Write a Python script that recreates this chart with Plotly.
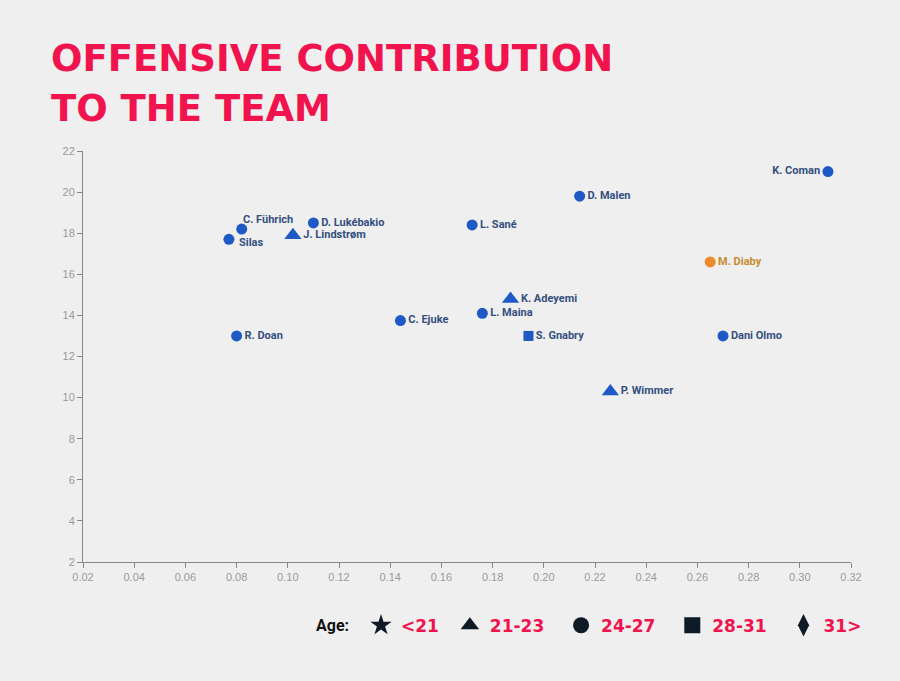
import plotly.graph_objects as go

players = ["K. Coman", "D. Malen", "L. Sané", "M. Diaby", "K. Adeyemi", "L. Maina",
           "S. Gnabry", "Dani Olmo", "P. Wimmer", "C. Führich", "Silas", "D. Lukébakio",
           "J. Lindstrøm", "R. Doan", "C. Ejuke"]
x_vals = [0.311, 0.214, 0.172, 0.265, 0.187, 0.176, 0.194, 0.270, 0.226, 0.082, 0.077,
          0.110, 0.102, 0.080, 0.144]
y_vals = [21.0, 19.8, 18.4, 16.6, 14.8, 14.1, 13.0, 13.0, 10.3, 18.2, 17.7, 18.5, 17.9,
          13.0, 13.75]
age_groups = ["24-27", "24-27", "24-27", "24-27", "21-23", "24-27", "28-31", "24-27",
              "21-23", "24-27", "24-27", "24-27", "21-23", "24-27", "24-27"]
highlight = ["M. Diaby"]

legend_title = "Age:"
legend_labels = ["<21", "21-23", "24-27", "28-31", "31>"]
legend_symbols = ["star", "triangle-up", "circle", "square", "diamond-tall"]

x_ticks = [round(0.02 + 0.02 * i, 2) for i in range(16)]
y_ticks = list(range(2, 23, 2))

sym_map = dict(zip(legend_labels, legend_symbols))
BLUE = "#1f59c6"
ORANGE = "#ec8a2c"
LABEL = "#34507f"
LABEL_OR = "#c98b2e"
RED = "#f0134d"
BG = "#efefef"

pos_map = {"K. Coman": "middle left"}
# labels placed as annotations: (xanchor, yanchor, xshift, yshift)
special = {"C. Führich": ("left", "bottom", -1, 1), "Silas": ("left", "middle", 8, -3)}

fig = go.Figure()
for name, x, y, ag in zip(players, x_vals, y_vals, age_groups):
    sym = sym_map[ag]
    size = 11 if sym == "circle" else (15 if sym == "triangle-up" else 10)
    col = ORANGE if name in highlight else BLUE
    lab_font = dict(family="Roboto", size=11, weight="bold",
                    color=LABEL_OR if name in highlight else LABEL)
    in_trace = name not in special
    fig.add_trace(go.Scatter(
        x=[x], y=[y], mode="markers+text" if in_trace else "markers",
        text=[name] if in_trace else None,
        textposition=pos_map.get(name, "middle right"),
        textfont=lab_font,
        marker=dict(symbol=sym, size=size, color=col, line=dict(width=0)),
        showlegend=False, hoverinfo="skip", cliponaxis=False))
    if not in_trace:
        xa, ya, xs, ys = special[name]
        fig.add_annotation(x=x, y=y, text=name, showarrow=False, xanchor=xa,
                           yanchor=ya, xshift=xs, yshift=ys, font=lab_font)

for lab, sym in zip(legend_labels, legend_symbols):
    pad = "\u00a0" if len(lab) <= 3 else "\u00a0\u00a0"
    fig.add_trace(go.Scatter(
        x=[None], y=[None], mode="markers", name=lab + pad,
        marker=dict(symbol=sym, size=18, color="#0e1b26"), showlegend=True))

fig.add_annotation(text=legend_title, xref="paper", yref="paper",
                   x=0.301, y=-0.1557, xanchor="left", yanchor="middle", showarrow=False,
                   font=dict(family="Roboto", size=16, color="#111111", weight="bold"))

fig.add_annotation(text="OFFENSIVE CONTRIBUTION", xref="paper", yref="paper",
                   x=-0.044, y=0.168 + 1, xanchor="left", yanchor="bottom",
                   showarrow=False, font=dict(family="DejaVu Sans", size=37, color=RED, weight="bold"))
fig.add_annotation(text="TO THE TEAM", xref="paper", yref="paper",
                   x=-0.044, y=0.046 + 1, xanchor="left", yanchor="bottom",
                   showarrow=False, font=dict(family="DejaVu Sans", size=37, color=RED, weight="bold"))

axis_common = dict(showgrid=False, zeroline=False, showline=True, linecolor="#888888",
                   linewidth=1, ticks="outside", ticklen=5, tickcolor="#888888",
                   tickfont=dict(family="Liberation Sans", size=11, color="#9a9a9a"))
fig.update_xaxes(range=[0.02, 0.32], tickvals=x_ticks, ticktext=[f"{t:.2f}" for t in x_ticks],
                 **axis_common)
fig.update_yaxes(range=[2, 22], tickvals=y_ticks, **axis_common)

fig.update_layout(
    width=900, height=681,
    margin=dict(l=83, r=49, t=151, b=119),
    paper_bgcolor=BG, plot_bgcolor=BG,
    legend=dict(orientation="h", x=0.362, y=-0.155, xanchor="left", yanchor="middle",
                font=dict(family="DejaVu Sans", size=17, color=RED, weight="bold"),
                bgcolor="rgba(0,0,0,0)", itemsizing="trace"),
)

fig.write_html("out.html", config={"displayModeBar": False},
               post_script="document.body.style.margin='0px';document.body.style.background='#efefef';")
